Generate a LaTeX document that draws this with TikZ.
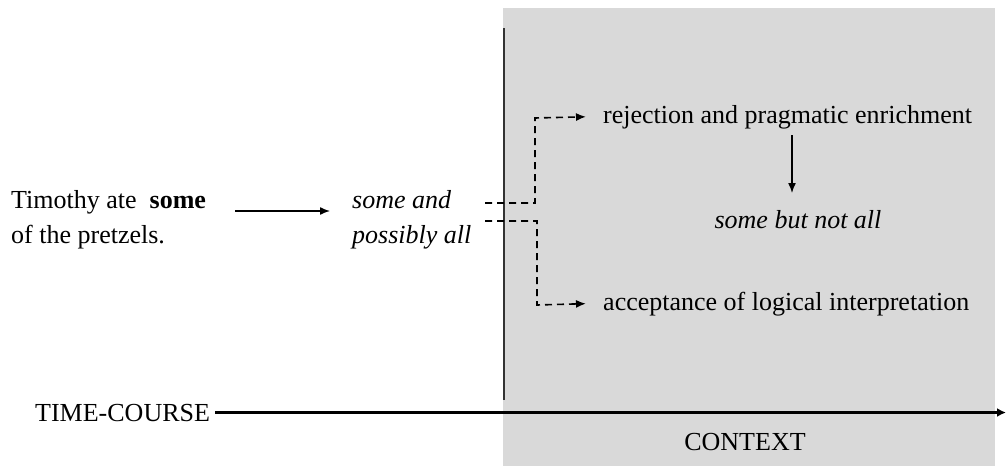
\documentclass[tikz,border=0pt]{standalone}
\usepackage{fontspec}
\setmainfont{Liberation Serif}
\usetikzlibrary{arrows.meta,calc}
\begin{document}
\begin{tikzpicture}[x=1pt,y=-1pt,
  txt/.style={font=\fontsize{26}{35}\selectfont, inner sep=0pt},
  itxt/.style={font=\fontsize{26}{35}\selectfont\itshape, inner sep=0pt},
  dashline/.style={dash pattern=on 7pt off 5pt, line width=1.6pt},
  tip/.style={-{Latex[length=10pt,width=8pt]}},
]
\useasboundingbox (0,0) rectangle (1007,466);
\fill[gray!30] (503,8) rectangle (995,466);
\draw[line width=1.6pt, black!80] (504,28) -- (504,400);
% texts
\node[txt, anchor=base west, align=left] (tim) at (11,243) {Timothy ate \ \textbf{some}\\of the pretzels.};
\node[itxt, anchor=base west, align=left] (sa) at (352,243) {some and\\possibly all};
\node[txt, anchor=base west] (rej) at (603,123) {rejection and pragmatic enrichment};
\node[itxt, anchor=base] (sbna) at (798,228) {some but not all};
\node[txt, anchor=base west] (acc) at (603,310) {acceptance of logical interpretation};
\node[txt, anchor=base west] (tc) at (35,421) {TIME-COURSE};
\node[txt, anchor=base] (ctx) at (745,450) {CONTEXT};
\coordinate (xend) at (1006,0);
\coordinate (up) at (485,203);
\coordinate (lo) at (485,221);
% arrows
\draw[line width=1.4pt, tip] (235,211) -- (330,211);
\draw[line width=1.4pt, tip] (792,135) -- (792,193);
\draw[line width=2.2pt, -{Latex[length=9pt,width=9pt]}] ($(tc.east)+(5,0)$) -- (tc.east -| xend);
\draw[dashline, tip] (up) -| (535,118) -- ($(rej.west)+(-17,0)$);
\draw[dashline, tip] (lo) -| (537,305) -- ($(acc.west)+(-17,0)$);
\end{tikzpicture}
\end{document}
